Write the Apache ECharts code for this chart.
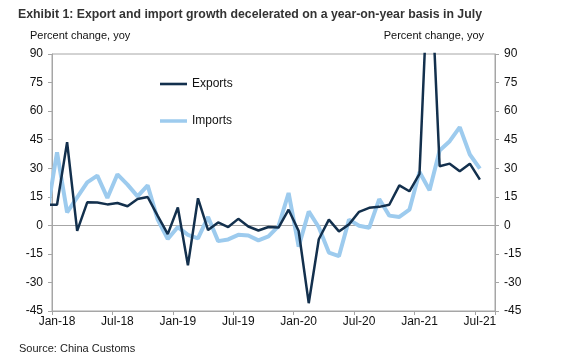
<!DOCTYPE html>
<html>
<head>
<meta charset="utf-8">
<script src="https://cdn.jsdelivr.net/npm/echarts@6/dist/echarts.min.js"></script>
<style>
html,body{margin:0;padding:0;background:#fff;}
#chart{width:561px;height:364px;}
</style>
</head>
<body>
<div id="chart"></div>
<script>
// Axis categories (Jan-18 .. Aug-21)
var categories = ["Jan-18","Feb-18","Mar-18","Apr-18","May-18","Jun-18","Jul-18","Aug-18","Sep-18","Oct-18","Nov-18","Dec-18",
"Jan-19","Feb-19","Mar-19","Apr-19","May-19","Jun-19","Jul-19","Aug-19","Sep-19","Oct-19","Nov-19","Dec-19",
"Jan-20","Feb-20","Mar-20","Apr-20","May-20","Jun-20","Jul-20","Aug-20","Sep-20","Oct-20","Nov-20","Dec-20",
"Jan-21","Feb-21","Mar-21","Apr-21","May-21","Jun-21","Jul-21","Aug-21"];

// Series values, Dec-17 .. Jul-21 (first value sits just left of the axis and is clipped)
var exportsYoy = [10.8,
 10.8, 43.7, -2.9, 12.1, 12.0, 11.0, 11.7, 10.0, 13.8, 14.9, 5.0, -4.6,
 9.4, -21.0, 14.2, -2.5, 1.5, -0.9, 3.4, -0.6, -2.7, -0.9, -1.2, 8.2,
 -3.0, -40.9, -7.3, 3.0, -3.2, 0.5, 7.1, 9.2, 9.7, 10.8, 21.0, 17.9,
 27.0, 150.0, 31.0, 32.4, 28.4, 32.4, 24.0];
var importsYoy = [6.0,
 38.4, 6.8, 14.7, 22.6, 26.1, 14.4, 26.8, 21.4, 15.2, 21.0, 3.0, -7.2,
 -0.9, -5.0, -6.9, 4.4, -8.3, -7.4, -5.0, -5.3, -7.9, -5.8, -0.4, 17.0,
 -11.2, 7.3, -1.0, -14.3, -16.2, 3.0, -0.2, -1.3, 13.8, 5.1, 4.4, 8.2,
 28.0, 18.4, 39.3, 44.2, 51.6, 37.2, 29.8];

// Y tick settings
var yMin = -45, yMax = 90, yStep = 15;

function toPairs(arr) {
  return arr.map(function (v, i) { return [i - 1, v]; });
}

var FONT = "Liberation Sans, Arial, sans-serif";
var chart = echarts.init(document.getElementById('chart'), null, {renderer: 'canvas'});
var yAxisCommon = {
  type: 'value', min: yMin, max: yMax, interval: yStep,
  splitLine: {show: false},
  axisLine: {show: true, onZero: false, lineStyle: {color: '#a6a6a6', width: 1}},
  axisTick: {show: true, length: 4, lineStyle: {color: '#a6a6a6'}},
  axisLabel: {color: '#111', fontSize: 12, fontFamily: FONT, margin: 9}
};
chart.setOption({
  animation: false,
  backgroundColor: '#fff',
  title: {
    text: 'Exhibit 1: Export and import growth decelerated on a year-on-year basis in July',
    left: 13, top: 4,
    textStyle: {fontFamily: FONT, fontSize: 12.3, fontWeight: 'bold', color: '#333'}
  },
  graphic: [
    {type: 'text', left: 30, top: 30, style: {text: 'Percent change, yoy', font: '11px ' + FONT, fill: '#111'}},
    {type: 'text', right: 77, top: 30, style: {text: 'Percent change, yoy', font: '11px ' + FONT, fill: '#111'}},
    {type: 'text', left: 19, top: 343, style: {text: 'Source: China Customs', font: '11px ' + FONT, fill: '#222'}}
  ],
  legend: {
    orient: 'vertical', left: 160, top: 78, padding: 0,
    itemWidth: 27, itemHeight: 14, itemGap: 25,
    textStyle: {fontFamily: FONT, fontSize: 12, color: '#111'},
    data: [
      {name: 'Exports', icon: 'path://M0,6 L27,6 L27,8.6 L0,8.6 Z'},
      {name: 'Imports', icon: 'path://M0,5.5 L27,5.5 L27,9 L0,9 Z'}
    ]
  },
  grid: {left: 52, right: 66, top: 54, bottom: 53, show: true, borderColor: '#a6a6a6', borderWidth: 1},
  xAxis: [
    {
      type: 'category', data: categories, boundaryGap: true, position: 'bottom',
      axisLine: {onZero: false, lineStyle: {color: '#a6a6a6'}},
      axisTick: {show: true, interval: 5, length: 4, alignWithLabel: false, lineStyle: {color: '#a6a6a6'}},
      axisLabel: {interval: 5, color: '#111', fontSize: 12, fontFamily: FONT, margin: 5},
      splitLine: {show: false}
    },
    {
      type: 'value', min: -0.5, max: categories.length - 0.5, show: false,
      axisLine: {onZero: false},
      splitLine: {show: false}
    }
  ],
  yAxis: [
    Object.assign({position: 'left'}, yAxisCommon),
    Object.assign({position: 'right'}, yAxisCommon)
  ],
  series: [
    {
      name: 'Imports', type: 'line', xAxisIndex: 1, yAxisIndex: 0,
      data: toPairs(importsYoy), symbol: 'none', clip: true,
      lineStyle: {color: '#9dcbee', width: 4}, itemStyle: {color: '#9dcbee'}, z: 2
    },
    {
      name: 'Exports', type: 'line', xAxisIndex: 1, yAxisIndex: 0,
      data: toPairs(exportsYoy), symbol: 'none', clip: true,
      lineStyle: {color: '#13304d', width: 2.5}, itemStyle: {color: '#13304d'}, z: 3,
      markLine: {
        silent: true, symbol: 'none', label: {show: false},
        lineStyle: {color: '#a6a6a6', width: 1, type: 'solid'},
        data: [{yAxis: 0}], z: 1
      }
    }
  ]
});
</script>
</body>
</html>
